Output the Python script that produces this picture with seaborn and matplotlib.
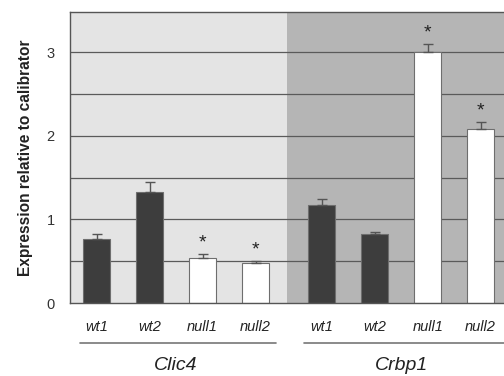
import matplotlib
matplotlib.use("Agg")
import matplotlib.pyplot as plt
import matplotlib.transforms as mtransforms
import numpy as np
import pandas as pd
import seaborn as sns

# data
genes = ["Clic4", "Crbp1"]
samples = ["wt1", "wt2", "null1", "null2"]
genotype = ["wt", "wt", "null", "null"]
clic4_values = [0.77, 1.33, 0.54, 0.48]
clic4_errors = [0.06, 0.12, 0.05, 0.02]
crbp1_values = [1.17, 0.82, 3.00, 2.08]
crbp1_errors = [0.08, 0.03, 0.10, 0.08]
significant = [False, False, True, True]

group_offset = 4.25
positions = list(range(4)) + [p + group_offset for p in range(4)]

df = pd.DataFrame({
    "pos": positions,
    "value": clic4_values + crbp1_values,
    "err": clic4_errors + crbp1_errors,
    "type": genotype * 2,
    "sample": samples * 2,
    "star": significant * 2,
})

sns.set_style("white")
plt.rcParams["font.family"] = ["Liberation Sans", "DejaVu Sans"]

fig = plt.figure(figsize=(5.04, 3.76), dpi=100)
ax = fig.add_axes([0.139, 0.194, 0.861, 0.774])

x_lo, x_hi, split = -0.5, 7.69, 3.6
ax.axvspan(x_lo, split, color="#e4e4e4", zorder=0, lw=0)
ax.axvspan(split, x_hi, color="#b5b5b5", zorder=0, lw=0)
for y in np.arange(0.5, 3.01, 0.5):
    ax.axhline(y, color="#5a5a5a", lw=0.9, zorder=0.5)

sns.barplot(data=df, x="pos", y="value", hue="type", native_scale=True,
            dodge=False, palette={"wt": "#3d3d3d", "null": "white"},
            edgecolor="#6e6e6e", linewidth=0.8, width=0.5, errorbar=None,
            legend=False, ax=ax, zorder=2)

ax.errorbar(df["pos"], df["value"], yerr=[np.zeros(len(df)), df["err"]],
            fmt="none", ecolor="#555555", elinewidth=1, capsize=3.5,
            capthick=1, zorder=3)

for _, row in df[df["star"]].iterrows():
    ax.text(row["pos"], row["value"] + row["err"] + 0.03, "*", ha="center",
            va="bottom", fontsize=14, color="#222222")

ax.set_xlim(x_lo, x_hi)
ax.set_ylim(0, 3.48)
ticks = np.arange(0, 3.01, 0.5)
ax.set_yticks(ticks)
ax.set_yticklabels([f"{t:g}" if t == int(t) else "" for t in ticks],
                   fontsize=10.5, color="#333333")
ax.tick_params(axis="y", length=5, width=0.9, color="#555555", pad=6)
ax.set_xticks(positions)
ax.set_xticklabels(df["sample"], fontsize=10.5, style="italic", color="#222222")
ax.tick_params(axis="x", length=0, pad=12)
ax.set_xlabel("")
ax.set_ylabel("Expression relative to calibrator", fontsize=11.2,
              fontweight="bold", color="#222222", labelpad=10)

for side in ["left", "bottom", "top"]:
    ax.spines[side].set_color("#555555")
    ax.spines[side].set_linewidth(1)
ax.spines["right"].set_visible(False)

trans = mtransforms.blended_transform_factory(ax.transData, ax.transAxes)
line_ranges = [(-0.32, 3.38), (group_offset - 0.33, x_hi)]
centers = [1.5, group_offset + 1.5]
for gene, (a, b), c in zip(genes, line_ranges, centers):
    ax.plot([a, b], [-0.137, -0.137], transform=trans, color="#777777",
            lw=1.2, clip_on=False)
    ax.text(c, -0.213, gene, transform=trans, ha="center", va="center",
            fontsize=14, style="italic", color="#222222")

fig.savefig("out.png", dpi=100)
